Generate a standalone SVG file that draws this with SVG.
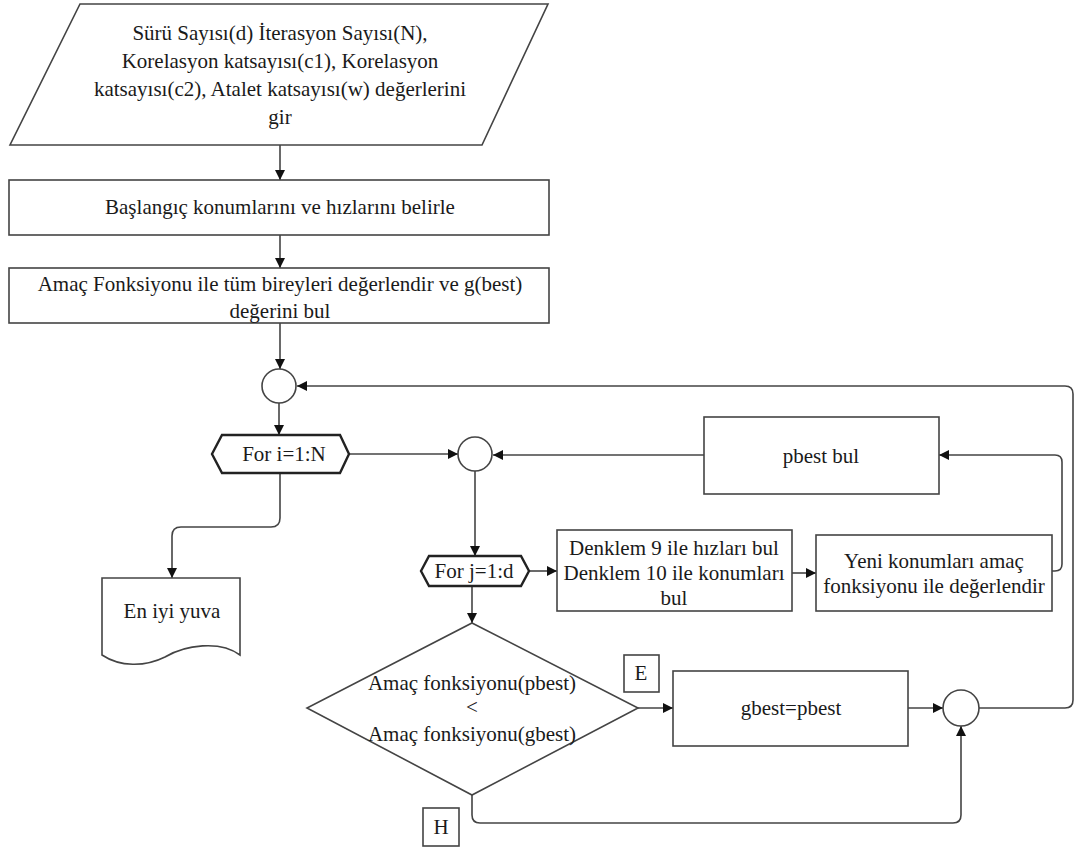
<svg xmlns="http://www.w3.org/2000/svg" width="1075" height="848" viewBox="0 0 1075 848" font-family="'Liberation Serif', 'DejaVu Serif', serif" font-size="21">
<defs>
<marker id="arr" viewBox="0 0 10 10" refX="10" refY="5" markerWidth="10" markerHeight="10" markerUnits="userSpaceOnUse" orient="auto">
<path d="M0,0 L10,5 L0,10 Z" fill="#111"/>
</marker>
</defs>
<style>
.box{fill:#fff;stroke:#444;stroke-width:1.6}
.hex{fill:#fff;stroke:#222;stroke-width:2.4}
.con{fill:none;stroke:#444;stroke-width:1.6}
.arr{marker-end:url(#arr)}
.t{font-family:'Liberation Serif', 'DejaVu Serif', serif;font-size:21px;fill:#1a1a1a;text-anchor:middle;dominant-baseline:central}
</style>
<rect width="1075" height="848" fill="#fff"/>
<g id="connectors">
<path class="con arr" d="M280,145 V180"/>
<path class="con arr" d="M280,235 V268"/>
<path class="con arr" d="M280,323 V369"/>
<path class="con arr" d="M279,403 V435"/>
<path class="con arr" d="M349,454 H458"/>
<path class="con arr" d="M280,473 V518 Q280,527 271,527 H181 Q172,527 172,536 V578"/>
<path class="con arr" d="M475,471 V556"/>
<path class="con arr" d="M529,571 H557"/>
<path class="con arr" d="M792,573 H816"/>
<path class="con arr" d="M1052,571 H1055 Q1062,571 1062,564 V462 Q1062,455 1055,455 H939"/>
<path class="con arr" d="M704,455 H493"/>
<path class="con arr" d="M472,586 V623"/>
<path class="con arr" d="M638,708 H673"/>
<path class="con arr" d="M908,708 H943"/>
<path class="con arr" d="M472,795 V815 Q472,823 480,823 H953 Q961,823 961,815 V726"/>
<path class="con arr" d="M979,708 H1065 Q1073,708 1073,700 V394 Q1073,386 1065,386 H297"/>
</g>
<g id="input">
<polygon class="box" points="80,4 548,4 482,145 10,145"/>
<text class="t" x="280" y="33">Sürü Sayısı(d) İterasyon Sayısı(N),</text>
<text class="t" x="280" y="61">Korelasyon katsayısı(c1), Korelasyon</text>
<text class="t" x="280" y="89">katsayısı(c2), Atalet katsayısı(w) değerlerini</text>
<text class="t" x="280" y="117">gir</text>
</g>
<g id="init">
<rect class="box" x="9" y="180" width="540" height="55"/>
<text class="t" x="280" y="207">Başlangıç konumlarını ve hızlarını belirle</text>
</g>
<g id="evaluate">
<rect class="box" x="9" y="268" width="540" height="55"/>
<text class="t" x="280" y="284">Amaç Fonksiyonu ile tüm bireyleri değerlendir ve g(best)</text>
<text class="t" x="280" y="311">değerini bul</text>
</g>
<g id="join1"><circle class="box" cx="279" cy="386" r="17"/></g>
<g id="fori">
<polygon class="hex" points="212,454 222,435 340,435 349,454 340,473 222,473"/>
<text class="t" x="284" y="454">For i=1:N</text>
</g>
<g id="result">
<path class="box" d="M102,578 H240 V655 C220,640 185,645 165,657 C145,667 120,667 102,655 Z"/>
<text class="t" x="172" y="611">En iyi yuva</text>
</g>
<g id="join2"><circle class="box" cx="475" cy="454" r="17"/></g>
<g id="forj">
<polygon class="hex" points="421,571 429,556 521,556 529,571 521,586 429,586"/>
<text class="t" x="474" y="571">For j=1:d</text>
</g>
<g id="update">
<rect class="box" x="557" y="530" width="235" height="81"/>
<text class="t" x="674" y="548">Denklem 9 ile hızları bul</text>
<text class="t" x="674" y="573">Denklem 10 ile konumları</text>
<text class="t" x="674" y="598">bul</text>
</g>
<g id="evalnew">
<rect class="box" x="816" y="535" width="236" height="76"/>
<text class="t" x="934" y="561">Yeni konumları amaç</text>
<text class="t" x="934" y="586">fonksiyonu ile değerlendir</text>
</g>
<g id="pbest">
<rect class="box" x="704" y="417" width="235" height="77"/>
<text class="t" x="821" y="456">pbest bul</text>
</g>
<g id="decision">
<polygon class="box" points="472,623 638,708 472,795 307,708"/>
<text class="t" x="472" y="683">Amaç fonksiyonu(pbest)</text>
<text class="t" x="472" y="707">&lt;</text>
<text class="t" x="472" y="734">Amaç fonksiyonu(gbest)</text>
</g>
<g id="labelE">
<rect class="box" x="624" y="655" width="35" height="37"/>
<text class="t" x="641" y="673">E</text>
</g>
<g id="labelH">
<rect class="box" x="423" y="808" width="36" height="38"/>
<text class="t" x="441" y="827">H</text>
</g>
<g id="gbest">
<rect class="box" x="673" y="671" width="235" height="75"/>
<text class="t" x="791" y="708">gbest=pbest</text>
</g>
<g id="join3"><circle class="box" cx="961" cy="708" r="18"/></g>
</svg>
